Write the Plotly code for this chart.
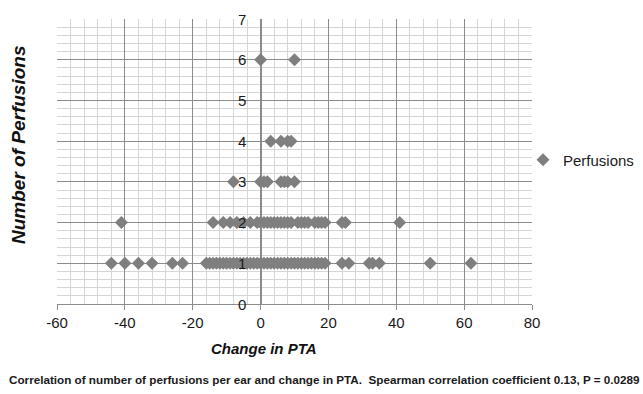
import plotly.graph_objects as go

# ---- data ----
row1_x = [-44, -40, -36, -32, -26, -23,
          -16, -15, -14, -13, -12, -11, -10, -9, -8, -7, -6, -5, -4, -3, -2, -1,
          0, 1, 2, 3, 4, 5, 6, 7, 8, 9, 10, 11, 12, 13, 14, 15, 16, 17, 18, 19,
          24, 26, 32, 33, 35, 50, 62]
row2_x = [-41, -14, -11, -9, -7, -5, -3, -1, 0, 1, 2, 3, 4, 5, 6, 7, 8, 9,
          11, 12, 13, 14, 16, 17, 18, 19, 24, 25, 41]
row3_x = [-8, 0, 1, 2, 6, 7, 8, 10]
row4_x = [3, 6, 8, 9]
row6_x = [0, 10]

rows = {1: row1_x, 2: row2_x, 3: row3_x, 4: row4_x, 6: row6_x}
x_values = []
y_values = []
for n, xs in rows.items():
    x_values += xs
    y_values += [n] * len(xs)

x_ticks = [-60, -40, -20, 0, 20, 40, 60, 80]
y_ticks = [0, 1, 2, 3, 4, 5, 6, 7]

series_name = "Perfusions"
x_title = "Change in PTA"
y_title = "Number of Perfusions"
caption = ("Correlation of number of perfusions per ear and change in PTA.  "
           "Spearman correlation coefficient 0.13, P = 0.0289")

FONT = "Liberation Sans, Arial, sans-serif"
MAJOR = "#8c8c8c"
MINOR = "#d6d6d6"

# plot-area placement in pixels
pl, pr, pt, pb = 57, 532, 19, 304
W, H = 643, 394

def px_to_paper(px, py):
    return (px - pl) / (pr - pl), (pb - py) / (pb - pt)

fig = go.Figure()
fig.add_trace(go.Scatter(
    x=x_values, y=y_values, mode="markers", name=series_name,
    marker=dict(symbol="diamond", size=10, color="#7f7f7f"),
    showlegend=True,
))

lx, ly = px_to_paper(523, 160)
fig.update_layout(
    width=W, height=H,
    margin=dict(l=pl, r=W - pr, t=pt, b=H - pb, pad=0, autoexpand=False),
    paper_bgcolor="white", plot_bgcolor="white",
    font=dict(family=FONT, size=15, color="#1a1a1a"),
    showlegend=True,
    legend=dict(x=lx, xanchor="left", y=ly, yanchor="middle",
                font=dict(family=FONT, size=15, color="#1a1a1a"),
                bgcolor="rgba(0,0,0,0)"),
    xaxis=dict(range=[-60, 80], tickvals=x_ticks, ticktext=[str(v) for v in x_ticks],
               showgrid=True, gridcolor=MAJOR, gridwidth=1,
               minor=dict(dtick=4, tick0=-60, showgrid=True, gridcolor=MINOR, gridwidth=1),
               zeroline=True, zerolinecolor=MAJOR, zerolinewidth=1.5,
               showline=True, linecolor=MAJOR, linewidth=1,
               ticks="outside", ticklen=5, tickcolor=MAJOR,
               tickfont=dict(family=FONT, size=15, color="#1a1a1a"),
               automargin=False, fixedrange=True),
    yaxis=dict(range=[0, 7], tickvals=y_ticks, showticklabels=False,
               showgrid=True, gridcolor=MAJOR, gridwidth=1,
               minor=dict(dtick=0.2, tick0=0, showgrid=True, gridcolor=MINOR, gridwidth=1),
               zeroline=False, showline=False, ticks="",
               automargin=False, fixedrange=True),
)

# y tick labels sit beside the vertical axis that crosses at x = 0
for v in y_ticks:
    fig.add_annotation(x=0, y=v, xref="x", yref="y", text=str(v), showarrow=False,
                       xanchor="right", yanchor="middle", xshift=-13,
                       font=dict(family=FONT, size=15, color="#1a1a1a"))

ax, ay = px_to_paper(264, 348)
fig.add_annotation(x=ax, y=ay, xref="paper", yref="paper", xanchor="center", yanchor="middle",
                   text=f"<b><i>{x_title}</i></b>", showarrow=False,
                   font=dict(family=FONT, size=15, color="#111"))
ax, ay = px_to_paper(18, 145)
fig.add_annotation(x=ax, y=ay, xref="paper", yref="paper", xanchor="center", yanchor="middle",
                   text=f"<b><i>{y_title}</i></b>", textangle=-90, showarrow=False,
                   font=dict(family=FONT, size=19, color="#111"))
ax, ay = px_to_paper(324, 379)
fig.add_annotation(x=ax, y=ay, xref="paper", yref="paper", xanchor="center", yanchor="middle",
                   text=f"<b>{caption}</b>", showarrow=False,
                   font=dict(family=FONT, size=11.7, color="#1a1a1a"))

fig.write_html("out.html", config={"displayModeBar": False},
               post_script="document.body.style.margin='0';document.body.style.overflow='hidden';")
